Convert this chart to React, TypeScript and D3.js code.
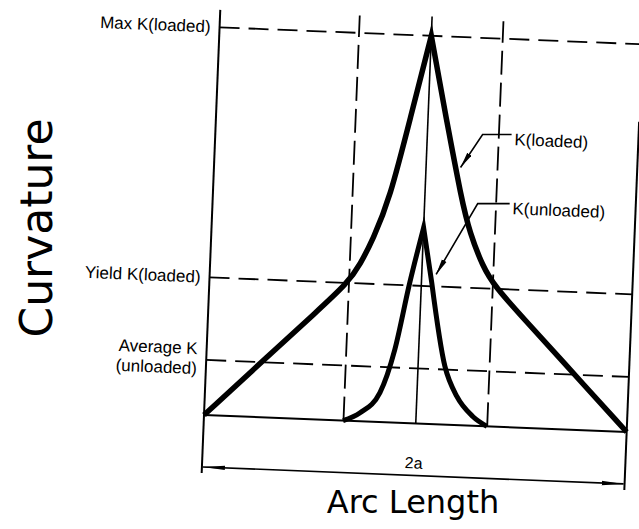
import React, { useEffect, useRef } from "react";
import * as d3 from "d3";

// arc position runs -1 .. 1 over the whole length 2a, curvature is relative to max K(loaded)
const loadedArc = [-1, -0.67, -0.5, -0.345, -0.29, -0.236, -0.164, -0.08, 0.002, 0.088, 0.176, 0.221, 0.289, 0.349, 0.5, 0.67, 1];
const loadedK = [0, 0.179, 0.271, 0.355, 0.405, 0.469, 0.574, 0.79, 1.0, 0.79, 0.581, 0.497, 0.411, 0.361, 0.277, 0.183, 0];

const unloadedArc = [-0.342, -0.263, -0.173, -0.111, -0.053, 0.002, 0.051, 0.129, 0.191, 0.27, 0.339];
const unloadedK = [0, 0.022, 0.076, 0.188, 0.362, 0.505, 0.364, 0.15, 0.074, 0.024, 0];

const levelValues = [1.0, 0.355, 0.142];
const levelLabels = [["Max K(loaded)"], ["Yield K(loaded)"], ["Average K", "(unloaded)"]];
const guideArcs = [-0.34, 0.34];

const INK = "#000";

export default function App() {
  const svgRef = useRef<SVGSVGElement>(null);

  useEffect(() => {
    document.body.style.margin = "0";
    const svg = d3.select(svgRef.current);
    svg.selectAll("*").remove();

    const W = 423;
    const H = 388;
    const x = d3.scaleLinear().domain([-1, 1]).range([0, W]);
    const y = d3.scaleLinear().domain([0, 1]).range([0, -H]);

    const defs = svg.append("defs");
    defs.append("marker")
      .attr("id", "dimArrow")
      .attr("viewBox", "0 -3 22 6")
      .attr("refX", 22).attr("refY", 0)
      .attr("markerWidth", 22).attr("markerHeight", 6)
      .attr("markerUnits", "userSpaceOnUse")
      .attr("orient", "auto-start-reverse")
      .append("path").attr("d", "M0,-2.2L22,0L0,2.2Z").attr("fill", INK);
    defs.append("marker")
      .attr("id", "leadArrow")
      .attr("viewBox", "0 -3 16 6")
      .attr("refX", 16).attr("refY", 0)
      .attr("markerWidth", 16).attr("markerHeight", 6)
      .attr("markerUnits", "userSpaceOnUse")
      .attr("orient", "auto")
      .append("path").attr("d", "M0,-2.6L16,0L0,2.6Z").attr("fill", INK);

    // the scanned drawing sits slightly rotated
    const g = svg.append("g").attr("transform", "translate(204,415) rotate(2.3)");

    // dashed level lines
    levelValues.forEach((v, i) => {
      g.append("line")
        .attr("x1", 0).attr("x2", i === 0 ? W + 60 : W)
        .attr("y1", y(v)).attr("y2", y(v))
        .attr("stroke", INK).attr("stroke-width", 1.8)
        .attr("stroke-dasharray", "20,9");
    });

    // dashed vertical guides
    guideArcs.forEach((a) => {
      g.append("line")
        .attr("x1", x(a)).attr("x2", x(a))
        .attr("y1", y(0)).attr("y2", y(1.045))
        .attr("stroke", INK).attr("stroke-width", 1.8)
        .attr("stroke-dasharray", "24,8");
    });

    // centre line through the peaks
    const peakArc = loadedArc[d3.maxIndex(loadedK)];
    g.append("line")
      .attr("x1", x(peakArc)).attr("x2", x(peakArc))
      .attr("y1", y(0)).attr("y2", y(1.05))
      .attr("stroke", INK).attr("stroke-width", 1.6);

    // axis, baseline, right border
    g.append("line").attr("x1", 0).attr("x2", 0).attr("y1", 58).attr("y2", y(1.045))
      .attr("stroke", INK).attr("stroke-width", 2);
    g.append("line").attr("x1", W).attr("x2", W).attr("y1", 58).attr("y2", y(0.8))
      .attr("stroke", INK).attr("stroke-width", 2);
    g.append("line").attr("x1", 0).attr("x2", W).attr("y1", y(0)).attr("y2", y(0))
      .attr("stroke", INK).attr("stroke-width", 2);

    // dimension 2a
    g.append("line").attr("x1", 1).attr("x2", W - 1).attr("y1", 52).attr("y2", 52)
      .attr("stroke", INK).attr("stroke-width", 1.6)
      .attr("marker-start", "url(#dimArrow)").attr("marker-end", "url(#dimArrow)");
    g.append("text").attr("x", x(0)).attr("y", 45)
      .attr("text-anchor", "middle")
      .attr("font-family", "Liberation Sans, Arial, sans-serif").attr("font-size", 16)
      .attr("fill", INK).text("2a");

    // level labels
    levelLabels.forEach((lines, i) => {
      const t = g.append("text")
        .attr("text-anchor", "end")
        .attr("font-family", "Liberation Sans, Arial, sans-serif").attr("font-size", 17)
        .attr("fill", INK);
      const off = lines.length === 1 ? [0] : [-11, 9];
      lines.forEach((s, j) => {
        t.append("tspan").attr("x", -9).attr("y", y(levelValues[i]) + off[j])
          .attr("dominant-baseline", "central").text(s);
      });
    });

    // curves: smooth on each branch, a sharp point at the peak
    const peakPath = (arc: number[], k: number[], curve: d3.CurveFactory) => {
      const line = d3.line<[number, number]>()
        .x((d) => x(d[0])).y((d) => y(d[1]))
        .curve(curve);
      const pts = arc.map((a, i) => [a, k[i]] as [number, number]);
      const p = d3.maxIndex(k);
      const left = line(pts.slice(0, p + 1)) as string;
      const right = line(pts.slice(p + 1)) as string;
      return left + right.replace(/^M/, "L");
    };

    g.append("path").attr("d", peakPath(loadedArc, loadedK, d3.curveBasis))
      .attr("fill", "none").attr("stroke", INK).attr("stroke-width", 5.5)
      .attr("stroke-linejoin", "miter").attr("stroke-miterlimit", 10);
    g.append("path").attr("d", peakPath(unloadedArc, unloadedK, d3.curveMonotoneX))
      .attr("fill", "none").attr("stroke", INK).attr("stroke-width", 5)
      .attr("stroke-linejoin", "miter").attr("stroke-miterlimit", 14);

    // leaders
    const leaders = [
      { text: "K(loaded)", end: [0.4, 0.754], corner: [0.263, 0.751], tip: [0.165, 0.664] },
      { text: "K(unloaded)", end: [0.404, 0.576], corner: [0.253, 0.573], tip: [0.07, 0.386] },
    ];
    leaders.forEach((l) => {
      g.append("path")
        .attr("d", `M${x(l.end[0])},${y(l.end[1])}L${x(l.corner[0])},${y(l.corner[1])}L${x(l.tip[0])},${y(l.tip[1])}`)
        .attr("fill", "none").attr("stroke", INK).attr("stroke-width", 1.6)
        .attr("marker-end", "url(#leadArrow)");
      g.append("text")
        .attr("x", x(l.end[0]) + 3).attr("y", y(l.end[1]) + 5)
        .attr("dominant-baseline", "central")
        .attr("font-family", "Liberation Sans, Arial, sans-serif").attr("font-size", 17)
        .attr("fill", INK).text(l.text);
    });

    // axis titles
    svg.append("text")
      .attr("transform", "translate(52,228) rotate(-90)")
      .attr("text-anchor", "middle")
      .attr("font-family", "DejaVu Sans, sans-serif").attr("font-size", 44)
      .attr("fill", INK).text("Curvature");
    svg.append("text")
      .attr("x", 413).attr("y", 513)
      .attr("text-anchor", "middle")
      .attr("font-family", "DejaVu Sans, sans-serif").attr("font-size", 32)
      .attr("fill", INK).text("Arc Length");
  }, []);

  return <svg ref={svgRef} width={639} height={529} style={{ display: "block", background: "#fff" }} />;
}
